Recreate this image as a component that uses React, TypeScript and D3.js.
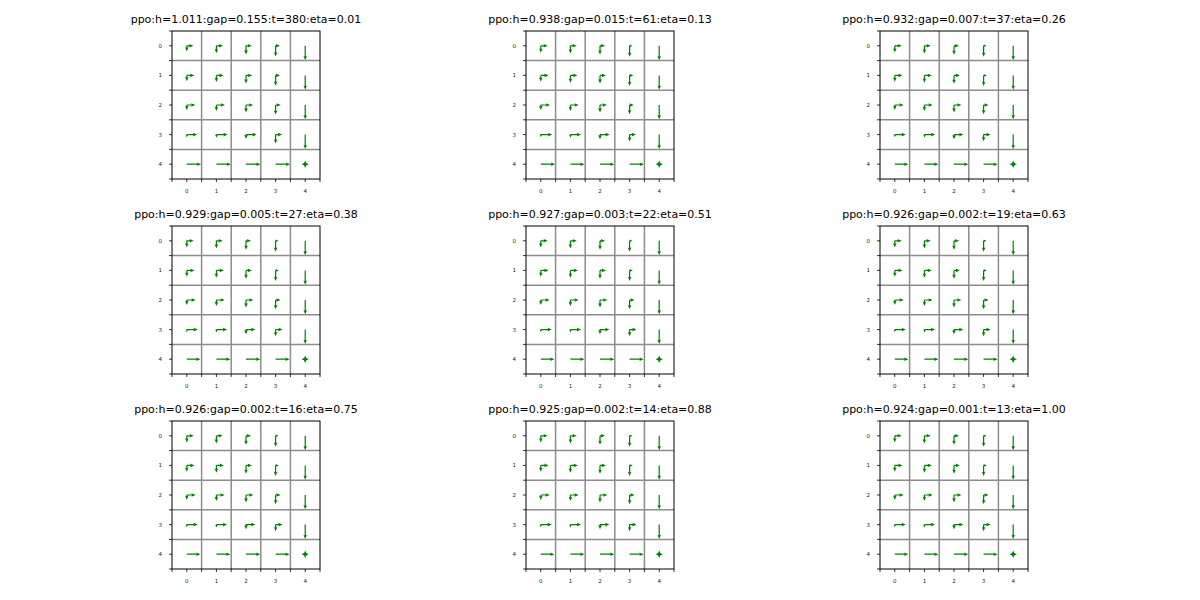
import { useEffect, useRef } from 'react';
import * as d3 from 'd3';

// 5x5 grid world, rows top to bottom, arrow length in half-cell units
const titles = [
  'ppo:h=1.011:gap=0.155:t=380:eta=0.01',
  'ppo:h=0.938:gap=0.015:t=61:eta=0.13',
  'ppo:h=0.932:gap=0.007:t=37:eta=0.26',
  'ppo:h=0.929:gap=0.005:t=27:eta=0.38',
  'ppo:h=0.927:gap=0.003:t=22:eta=0.51',
  'ppo:h=0.926:gap=0.002:t=19:eta=0.63',
  'ppo:h=0.926:gap=0.002:t=16:eta=0.75',
  'ppo:h=0.925:gap=0.002:t=14:eta=0.88',
  'ppo:h=0.924:gap=0.001:t=13:eta=1.00',
];

const right1 = [
  [0.45, 0.45, 0.4, 0.3, 0],
  [0.5, 0.48, 0.42, 0.3, 0],
  [0.58, 0.58, 0.48, 0.35, 0],
  [0.7, 0.76, 0.72, 0.44, 0],
  [0.97, 0.98, 0.98, 0.98, 0],
];
const down1 = [
  [0.38, 0.5, 0.58, 0.72, 0.97],
  [0.4, 0.45, 0.55, 0.7, 0.97],
  [0.35, 0.4, 0.5, 0.65, 0.97],
  [0.2, 0.22, 0.3, 0.6, 0.97],
  [0, 0, 0, 0, 0],
];

const right2 = [
  [0.47, 0.43, 0.34, 0.2, 0],
  [0.52, 0.47, 0.4, 0.25, 0],
  [0.63, 0.56, 0.47, 0.29, 0],
  [0.77, 0.72, 0.65, 0.43, 0],
  [0.97, 0.95, 0.97, 0.97, 0],
];
const down2 = [
  [0.47, 0.52, 0.59, 0.74, 0.97],
  [0.43, 0.5, 0.54, 0.72, 0.97],
  [0.34, 0.4, 0.5, 0.63, 0.97],
  [0.18, 0.22, 0.32, 0.47, 0.97],
  [0, 0, 0, 0, 0],
];

// panels 3..9 read the same at this resolution
const right3 = [
  [0.47, 0.43, 0.34, 0.2, 0],
  [0.52, 0.5, 0.4, 0.22, 0],
  [0.6, 0.56, 0.5, 0.34, 0],
  [0.74, 0.72, 0.63, 0.47, 0],
  [0.92, 0.95, 0.97, 0.95, 0],
];
const down3 = [
  [0.45, 0.52, 0.6, 0.74, 0.97],
  [0.43, 0.5, 0.56, 0.72, 0.97],
  [0.34, 0.4, 0.5, 0.63, 0.97],
  [0.18, 0.2, 0.32, 0.45, 0.97],
  [0, 0, 0, 0, 0],
];

const panelRight = [right1, right2, right3, right3, right3, right3, right3, right3, right3];
const panelDown = [down1, down2, down3, down3, down3, down3, down3, down3, down3];

// terminal state (4,4): uniform over up, down, left, right
const terminalProbs = [0.25, 0.25, 0.25, 0.25];

const majorTicks = [0, 1, 2, 3, 4];
const minorTicks = [-0.5, 0.5, 1.5, 2.5, 3.5, 4.5];
const gridLines = [0.5, 1.5, 2.5, 3.5];

const colLeft = [172, 526, 880];
const rowTop = [31, 226, 421];
const SIZE = 148;
const GREEN = '#008000';

function arrowPath(x0: number, y0: number, dx: number, dy: number, len: number) {
  const shaft = 1.2;
  let hl = 4.2;
  let hw = 3.6;
  let w = shaft;
  if (len < hl) {
    const k = len / hl;
    hl = len;
    hw = hw * Math.max(k, 0.6);
    w = w * Math.max(k, 0.6);
  }
  const hal = hl * 0.9;
  const pts: [number, number][] = [
    [0, -w / 2],
    [len - hal, -w / 2],
    [len - hl, -hw / 2],
    [len, 0],
    [len - hl, hw / 2],
    [len - hal, w / 2],
    [0, w / 2],
  ];
  const nx = -dy;
  const ny = dx;
  const mapped = pts.map(([a, b]) => [x0 + dx * a + nx * b, y0 + dy * a + ny * b] as [number, number]);
  return d3.line()(mapped) + 'Z';
}

export default function App() {
  const svgRef = useRef<SVGSVGElement>(null);

  useEffect(() => {
    if (!svgRef.current) return;
    const svg = d3.select(svgRef.current);
    svg.selectAll('*').remove();

    svg.append('rect').attr('width', 1200).attr('height', 600).attr('fill', '#fff');

    titles.forEach((title, i) => {
      const left = colLeft[i % 3];
      const top = rowTop[Math.floor(i / 3)];
      const x = d3.scaleLinear().domain([-0.5, 4.5]).range([left, left + SIZE]);
      const y = d3.scaleLinear().domain([-0.5, 4.5]).range([top, top + SIZE]);
      const half = (x(1) - x(0)) / 2;

      const g = svg.append('g');

      // grid
      g.selectAll('line.gx')
        .data(gridLines)
        .enter()
        .append('line')
        .attr('x1', (d) => x(d))
        .attr('x2', (d) => x(d))
        .attr('y1', top)
        .attr('y2', top + SIZE)
        .attr('stroke', '#8c8c8c')
        .attr('stroke-width', 1.5);
      g.selectAll('line.gy')
        .data(gridLines)
        .enter()
        .append('line')
        .attr('y1', (d) => y(d))
        .attr('y2', (d) => y(d))
        .attr('x1', left)
        .attr('x2', left + SIZE)
        .attr('stroke', '#8c8c8c')
        .attr('stroke-width', 1.5);

      // arrows
      const R = panelRight[i];
      const D = panelDown[i];
      for (let r = 0; r < 5; r++) {
        for (let c = 0; c < 5; c++) {
          const cx = x(c);
          const cy = y(r);
          if (r === 4 && c === 4) {
            const dirs: [number, number][] = [[0, -1], [0, 1], [-1, 0], [1, 0]];
            dirs.forEach(([dx, dy], k) => {
              g.append('path')
                .attr('d', arrowPath(cx, cy, dx, dy, terminalProbs[k] * half))
                .attr('fill', GREEN);
            });
            continue;
          }
          if (R[r][c] > 0) {
            g.append('path').attr('d', arrowPath(cx, cy, 1, 0, R[r][c] * half)).attr('fill', GREEN);
          }
          if (D[r][c] > 0) {
            g.append('path').attr('d', arrowPath(cx, cy, 0, 1, D[r][c] * half)).attr('fill', GREEN);
          }
        }
      }

      // frame
      g.append('rect')
        .attr('x', left)
        .attr('y', top)
        .attr('width', SIZE)
        .attr('height', SIZE)
        .attr('fill', 'none')
        .attr('stroke', '#000')
        .attr('stroke-width', 1);

      // ticks
      const allTicks = [...majorTicks, ...minorTicks];
      g.selectAll('line.tx')
        .data(allTicks)
        .enter()
        .append('line')
        .attr('x1', (d) => x(d))
        .attr('x2', (d) => x(d))
        .attr('y1', top + SIZE)
        .attr('y2', top + SIZE + 3)
        .attr('stroke', '#000')
        .attr('stroke-width', 0.8);
      g.selectAll('line.ty')
        .data(allTicks)
        .enter()
        .append('line')
        .attr('y1', (d) => y(d))
        .attr('y2', (d) => y(d))
        .attr('x1', left)
        .attr('x2', left - 3)
        .attr('stroke', '#000')
        .attr('stroke-width', 0.8);

      g.selectAll('text.lx')
        .data(majorTicks)
        .enter()
        .append('text')
        .attr('x', (d) => x(d))
        .attr('y', top + SIZE + 14)
        .attr('text-anchor', 'middle')
        .attr('font-size', '5.5px')
        .attr('font-family', 'DejaVu Sans')
        .attr('fill', '#222')
        .text((d) => String(d));
      g.selectAll('text.ly')
        .data(majorTicks)
        .enter()
        .append('text')
        .attr('x', left - 10)
        .attr('y', (d) => y(d) + 2)
        .attr('text-anchor', 'end')
        .attr('font-size', '5.5px')
        .attr('font-family', 'DejaVu Sans')
        .attr('fill', '#222')
        .text((d) => String(d));

      g.append('text')
        .attr('x', left + SIZE / 2)
        .attr('y', top - 8.5)
        .attr('text-anchor', 'middle')
        .attr('font-size', '11px')
        .attr('font-family', 'DejaVu Sans')
        .attr('fill', '#000')
        .text(title);
    });
  }, []);

  return (
    <svg
      ref={svgRef}
      width={1200}
      height={600}
      style={{ position: 'absolute', left: 0, top: 0 }}
    />
  );
}
